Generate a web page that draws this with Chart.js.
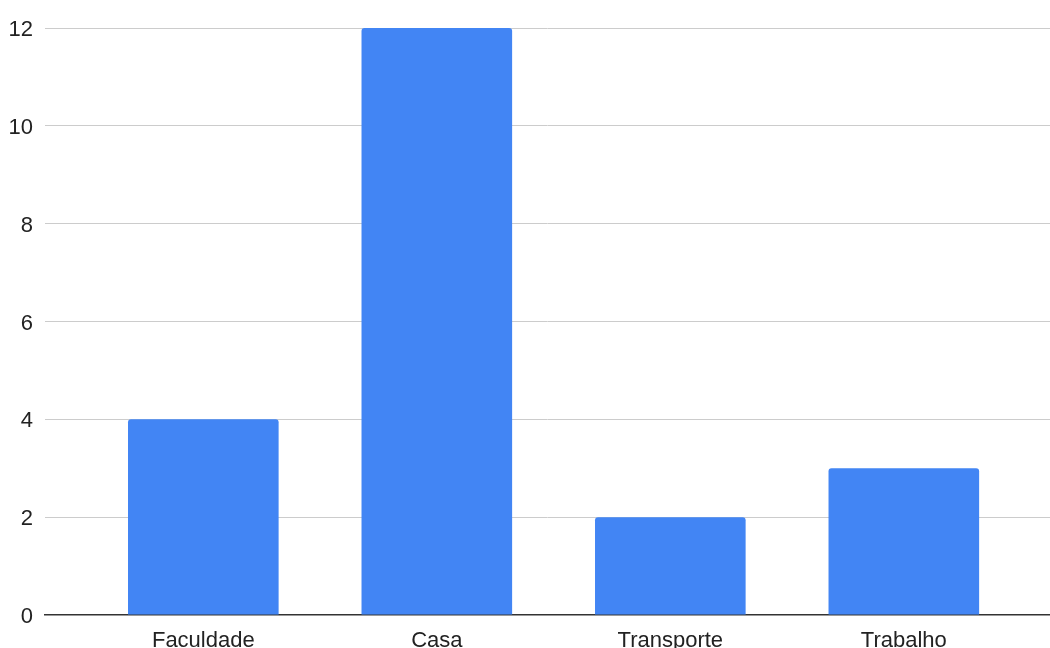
<!DOCTYPE html>
<html>
<head>
<meta charset="utf-8">
<script src="https://cdn.jsdelivr.net/npm/chart.js@4/dist/chart.umd.min.js"></script>
<style>
  html, body { margin: 0; padding: 0; background: #fff; }
  #chart { display: block; }
</style>
</head>
<body>
<canvas id="chart" width="1050" height="648"></canvas>
<script>
// categorias e valores
const categories = ['Faculdade', 'Casa', 'Transporte', 'Trabalho'];
const values = [4, 12, 2, 3];
const yTicks = [0, 2, 4, 6, 8, 10, 12];

const textColor = '#222222';
const fontFamily = '"Liberation Sans", Arial, sans-serif';

// eixo x linear para deixar a grade ir além das categorias
const points = categories.map((c, i) => ({ x: i, y: values[i] }));

const ctx = document.getElementById('chart').getContext('2d');
new Chart(ctx, {
    type: 'bar',
    data: {
        datasets: [{
            data: points,
            backgroundColor: '#4285f4',
            borderRadius: { topLeft: 3, topRight: 3 },
            borderSkipped: 'bottom',
            categoryPercentage: 1,
            barPercentage: 0.645
        }]
    },
    options: {
        responsive: false,
        animation: false,
        layout: { padding: { top: 28, right: 0, bottom: 0, left: 0 } },
        plugins: {
            legend: { display: false },
            tooltip: { enabled: false }
        },
        scales: {
            x: {
                type: 'linear',
                offset: false,
                min: -0.678,
                max: 3.626,
                afterBuildTicks: scale => {
                    scale.ticks = categories.map((c, i) => ({ value: i }));
                },
                afterFit: scale => { scale.height = 33; },
                grid: { display: false, offset: false },
                border: { display: true, color: '#333333', width: 1.5 },
                ticks: {
                    autoSkip: false,
                    maxRotation: 0,
                    padding: 5,
                    color: textColor,
                    font: { family: fontFamily, size: 22 },
                    callback: v => categories[v]
                }
            },
            y: {
                min: yTicks[0],
                max: yTicks[yTicks.length - 1],
                afterBuildTicks: scale => {
                    scale.ticks = yTicks.map(v => ({ value: v }));
                },
                afterFit: scale => { scale.width = 45; },
                border: { display: false },
                grid: {
                    color: c => c.tick && c.tick.value === 0 ? 'rgba(0,0,0,0)' : '#cccccc',
                    lineWidth: 1,
                    drawTicks: false
                },
                ticks: {
                    padding: 12,
                    labelOffset: 2,
                    color: textColor,
                    font: { family: fontFamily, size: 22 }
                }
            }
        }
    }
});
</script>
</body>
</html>
